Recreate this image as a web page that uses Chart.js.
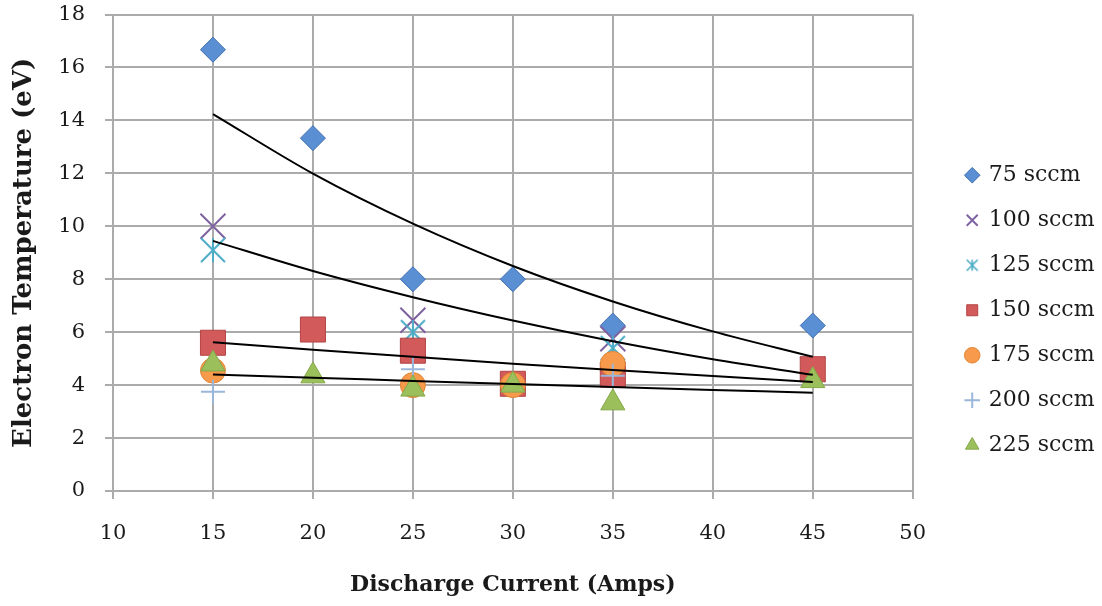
<!DOCTYPE html>
<html>
<head>
<meta charset="utf-8">
<title>Electron Temperature vs Discharge Current</title>
<script src="https://cdn.jsdelivr.net/npm/chart.js@4.4.1/dist/chart.umd.min.js"></script>
<style>
  body { margin: 0; background: #fff; }
  #wrap { width: 1102px; height: 606px; }
</style>
</head>
<body>
<div id="wrap"><canvas id="chart-te" width="1102" height="606"></canvas></div>
<script>
// Discharge current (A) of each measurement column
const currents = [15, 20, 25, 30, 35, 45];

// Electron temperature (eV) for each flow rate, null where there is no point
const te75  = [16.67, 13.33, 8.0, 8.0, 6.25, 6.25];
const te100 = [10.0, null, 6.45, null, 5.75, 4.6];
const te125 = [9.1, null, 6.0, null, 5.4, null];
const te150 = [5.6, 6.1, 5.3, 4.05, 4.4, 4.6];
const te175 = [4.55, null, 4.0, 4.0, 4.8, null];
const te200 = [3.75, null, 4.6, null, 4.35, null];
const te225 = [4.8, 4.35, 3.85, 4.0, 3.33, 4.17];

// Exponential trend lines, sampled every 5 A
const trendCurrents = [15, 20, 25, 30, 35, 40, 45];
const trend75  = [14.24, 11.99, 10.1, 8.5, 7.16, 6.03, 5.07];
const trend100 = [9.45, 8.31, 7.32, 6.44, 5.66, 4.98, 4.39];
const trend150 = [5.62, 5.34, 5.07, 4.81, 4.57, 4.34, 4.12];
const trend225 = [4.4, 4.28, 4.16, 4.04, 3.93, 3.82, 3.71];

const flowLabels = ['75 sccm', '100 sccm', '125 sccm', '150 sccm', '175 sccm', '200 sccm', '225 sccm'];

const FONT = "'DejaVu Serif', 'Liberation Serif', serif";
const TEXT = '#1a1a1a';
const GRID = '#ababab';

function toPoints(xs, ys) {
  return xs.map((x, i) => ({ x: x, y: ys[i] })).filter(p => p.y !== null);
}

// six-armed asterisk marker (X plus a vertical bar)
function asterisk(size, r, color, width) {
  const c = document.createElement('canvas');
  c.width = size;
  c.height = size;
  const g = c.getContext('2d');
  const m = size / 2;
  g.strokeStyle = color;
  g.lineWidth = width;
  g.beginPath();
  g.moveTo(m, m - r); g.lineTo(m, m + r);
  g.moveTo(m - r, m - r); g.lineTo(m + r, m + r);
  g.moveTo(m + r, m - r); g.lineTo(m - r, m + r);
  g.stroke();
  return c;
}
const starBig = asterisk(28, 12, '#4bacc6', 2);
const starSmall = asterisk(14, 5.5, '#4bacc6', 1.6);

function markerSet(i, data, style, radius, fill, stroke, bw) {
  return {
    label: flowLabels[i],
    data: toPoints(currents, data),
    pointStyle: style,
    pointRadius: radius,
    pointHoverRadius: radius,
    backgroundColor: fill,
    borderColor: stroke,
    borderWidth: bw,
    showLine: false,
    order: 7 - i
  };
}

function trendSet(data) {
  return {
    label: 'trend',
    data: toPoints(trendCurrents, data),
    showLine: true,
    borderColor: '#000',
    borderWidth: 2,
    pointRadius: 0,
    cubicInterpolationMode: 'monotone',
    order: 0
  };
}

// shift the legend block sideways, away from the plot area
const legendShift = {
  id: 'legendShift',
  afterLayout(chart) {
    const lg = chart.legend;
    lg.left += 31;
    lg.right += 31;
  }
};

const ctx = document.getElementById('chart-te').getContext('2d');
const teChart = new Chart(ctx, {
  type: 'scatter',
  data: {
    datasets: [
      markerSet(0, te75, 'rectRot', 12.5, '#5b8fd3', '#3e6fae', 1),
      markerSet(1, te100, 'crossRot', 17.7, '#7f63a1', '#7f63a1', 2),
      markerSet(2, te125, starBig, 12, '#4bacc6', '#4bacc6', 2),
      markerSet(3, te150, 'rect', 17.7, '#d35a5a', '#b24444', 1),
      markerSet(4, te175, 'circle', 12.5, '#f79a4c', '#e08535', 1),
      markerSet(5, te200, 'cross', 12, '#9ab6da', '#9ab6da', 2),
      markerSet(6, te225, 'triangle', 14, '#9bbf5a', '#85a84a', 1),
      trendSet(trend75),
      trendSet(trend100),
      trendSet(trend150),
      trendSet(trend225)
    ]
  },
  options: {
    responsive: false,
    animation: false,
    layout: {
      autoPadding: false,
      padding: { top: 14.5, right: 28.5, bottom: 0, left: 0 }
    },
    plugins: {
      tooltip: { enabled: false },
      legend: {
        display: true,
        position: 'right',
        labels: {
          usePointStyle: true,
          boxWidth: 11,
          boxHeight: 11,
          padding: 23,
          color: TEXT,
          font: { family: FONT, size: 22 },
          filter: (item) => item.datasetIndex < 7,
          sort: (a, b) => a.datasetIndex - b.datasetIndex,
          generateLabels: (chart) => {
            const items = Chart.defaults.plugins.legend.labels.generateLabels(chart);
            items.forEach(it => {
              if (it.datasetIndex === 2) it.pointStyle = starSmall;
            });
            return items;
          }
        }
      }
    },
    scales: {
      x: {
        type: 'linear',
        min: 10,
        max: 50,
        afterFit: (scale) => { scale.height = 115; },
        title: {
          display: true,
          text: 'Discharge Current (Amps)',
          color: TEXT,
          font: { family: FONT, size: 22, weight: 'bold' },
          padding: { top: 0, bottom: 8 }
        },
        grid: {
          color: GRID,
          lineWidth: 2,
          drawTicks: true,
          tickLength: 8
        },
        border: { color: GRID, width: 2 },
        ticks: {
          stepSize: 5,
          padding: 22,
          color: TEXT,
          font: { family: FONT, size: 21 }
        }
      },
      y: {
        min: 0,
        max: 18,
        afterFit: (scale) => {
          scale.width = 113;
          scale.paddingTop = 0;
          scale.paddingBottom = 0;
        },
        title: {
          display: true,
          text: 'Electron Temperature (eV)',
          color: TEXT,
          font: { family: FONT, size: 26, weight: 'bold' },
          padding: { top: 9, bottom: 0 }
        },
        grid: {
          color: GRID,
          lineWidth: 2,
          drawTicks: true,
          tickLength: 8
        },
        border: { color: GRID, width: 2 },
        ticks: {
          stepSize: 2,
          padding: 20,
          color: TEXT,
          font: { family: FONT, size: 21 }
        }
      }
    }
  },
  plugins: [legendShift]
});
</script>
</body>
</html>
